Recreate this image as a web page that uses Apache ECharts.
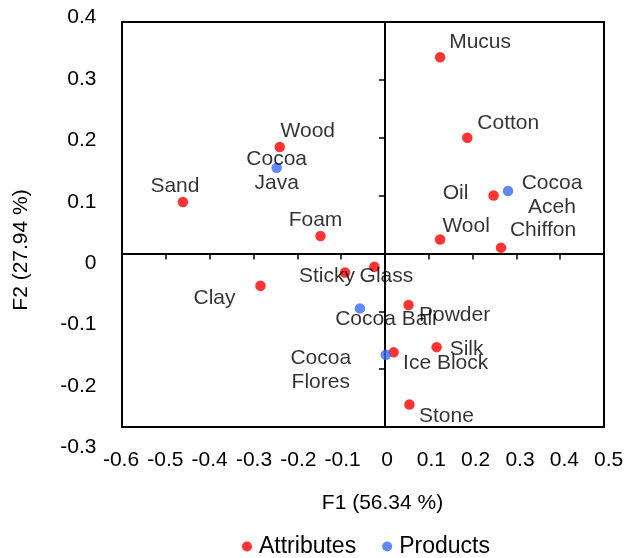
<!DOCTYPE html>
<html>
<head>
<meta charset="utf-8">
<script src="https://cdn.jsdelivr.net/npm/echarts@6/dist/echarts.min.js"></script>
<style>
  html, body { margin: 0; padding: 0; background: #fff; }
  #chart { width: 630px; height: 558px; }
</style>
</head>
<body>
<div id="chart"></div>
<script>
// PCA biplot: attribute loadings and product scores on F1 / F2
const attributeNames = ['Mucus', 'Cotton', 'Oil', 'Wool', 'Chiffon', 'Wood', 'Sand', 'Foam',
  'Clay', 'Sticky', 'Glass', 'Powder', 'Silk', 'Ice Block', 'Stone'];
const attributeF1 = [0.126, 0.188, 0.248, 0.126, 0.265, -0.240, -0.461, -0.147,
  -0.284, -0.091, -0.024, 0.054, 0.118, 0.020, 0.056];
const attributeF2 = [0.339, 0.200, 0.100, 0.024, 0.010, 0.184, 0.089, 0.030,
  -0.056, -0.033, -0.023, -0.089, -0.162, -0.171, -0.261];

const productNames = ['Cocoa\nJava', 'Cocoa Bali', 'Cocoa\nFlores', 'Cocoa\nAceh'];
const productF1 = [-0.247, -0.057, 0.002, 0.281];
const productF2 = [0.148, -0.095, -0.175, 0.108];

const xRange = [-0.6, 0.5];
const yRange = [-0.3, 0.4];
const tickStep = 0.1;

const xTitle = 'F1 (56.34 %)';
const yTitle = 'F2 (27.94 %)';
const seriesNames = ['Attributes', 'Products'];

// where each point's label sits relative to its marker, in pixels
const labelOffset = {
  'Mucus': [40, -15], 'Cotton': [41, -15], 'Oil': [-38, -2], 'Wool': [26, -13],
  'Chiffon': [42, -17], 'Wood': [28, -16], 'Sand': [-8, -16], 'Foam': [-5, -16],
  'Clay': [-46, 12], 'Sticky': [-18, 4], 'Glass': [12, 9], 'Powder': [46, 10],
  'Silk': [30, 2], 'Ice Block': [52, 11], 'Stone': [37, 12],
  'Cocoa\nJava': [0, 3], 'Cocoa Bali': [26, 11], 'Cocoa\nFlores': [-65, 16], 'Cocoa\nAceh': [44, 4]
};

const FONT = "'Liberation Sans', Arial, sans-serif";

function buildPoints(names, f1, f2) {
  return names.map((n, i) => ({
    name: n,
    value: [f1[i], f2[i]],
    label: { offset: labelOffset[n] || [0, 0] }
  }));
}

const pointLabel = {
  show: true,
  position: 'inside',
  align: 'center',
  verticalAlign: 'middle',
  formatter: '{b}',
  color: '#000',
  fontSize: 21,
  lineHeight: 24,
  fontFamily: FONT
};

const chart = echarts.init(document.getElementById('chart'), null, { renderer: 'canvas' });

chart.setOption({
  animation: false,
  backgroundColor: '#fff',
  textStyle: { fontFamily: FONT },
  grid: [
    // plotting frame
    { left: 122, top: 22, width: 482, height: 405, show: true, borderColor: '#000', borderWidth: 2,
      backgroundColor: 'transparent', outerBoundsMode: 'none', containLabel: false },
    // tick label band
    { left: 121, top: 17.5, width: 487.7, height: 430, show: false, outerBoundsMode: 'none', containLabel: false }
  ],
  xAxis: [
    { type: 'value', gridIndex: 0, min: xRange[0], max: xRange[1], interval: tickStep,
      axisLine: { show: true, onZero: true, onZeroAxisIndex: 0, lineStyle: { color: '#000', width: 2 } },
      axisTick: { show: true, inside: false, length: 6, lineStyle: { color: '#000', width: 1.5 } },
      axisLabel: { show: false }, splitLine: { show: false } },
    { type: 'value', gridIndex: 1, min: xRange[0], max: xRange[1], interval: tickStep, position: 'bottom',
      axisLine: { show: false, onZero: false }, axisTick: { show: false }, splitLine: { show: false },
      axisLabel: { show: true, margin: 2.5, color: '#000', fontSize: 21, fontFamily: FONT,
        showMinLabel: true, showMaxLabel: true, hideOverlap: false } }
  ],
  yAxis: [
    { type: 'value', gridIndex: 0, min: yRange[0], max: yRange[1], interval: tickStep,
      axisLine: { show: true, onZero: true, onZeroAxisIndex: 0, lineStyle: { color: '#000', width: 2 } },
      axisTick: { show: true, inside: false, length: 6, lineStyle: { color: '#000', width: 1.5 } },
      axisLabel: { show: false }, splitLine: { show: false } },
    { type: 'value', gridIndex: 1, min: yRange[0], max: yRange[1], interval: tickStep, position: 'left',
      axisLine: { show: false, onZero: false }, axisTick: { show: false }, splitLine: { show: false },
      axisLabel: { show: true, margin: 24.5, color: '#000', fontSize: 21, fontFamily: FONT,
        showMinLabel: true, showMaxLabel: true, hideOverlap: false } }
  ],
  legend: {
    data: seriesNames,
    left: 237,
    top: 530,
    icon: 'circle',
    itemWidth: 14,
    itemHeight: 10,
    itemGap: 26,
    textStyle: { color: '#000', fontSize: 23, fontFamily: FONT }
  },
  graphic: [
    { type: 'text', x: 382.5, y: 503, silent: true,
      style: { text: xTitle, fill: '#000', font: "21px " + FONT, textAlign: 'center', textVerticalAlign: 'middle' } },
    { type: 'text', x: 21.5, y: 250, rotation: Math.PI / 2, silent: true,
      style: { text: yTitle, fill: '#000', font: "21px " + FONT, textAlign: 'center', textVerticalAlign: 'middle' } }
  ],
  series: [
    { name: seriesNames[0], type: 'scatter', xAxisIndex: 0, yAxisIndex: 0,
      symbol: 'circle', symbolSize: 10.5, itemStyle: { color: '#ff0000' },
      label: pointLabel, data: buildPoints(attributeNames, attributeF1, attributeF2) },
    { name: seriesNames[1], type: 'scatter', xAxisIndex: 0, yAxisIndex: 0,
      symbol: 'circle', symbolSize: 10.5, itemStyle: { color: '#3a6cf4' },
      label: pointLabel, data: buildPoints(productNames, productF1, productF2) }
  ]
});
</script>
</body>
</html>
